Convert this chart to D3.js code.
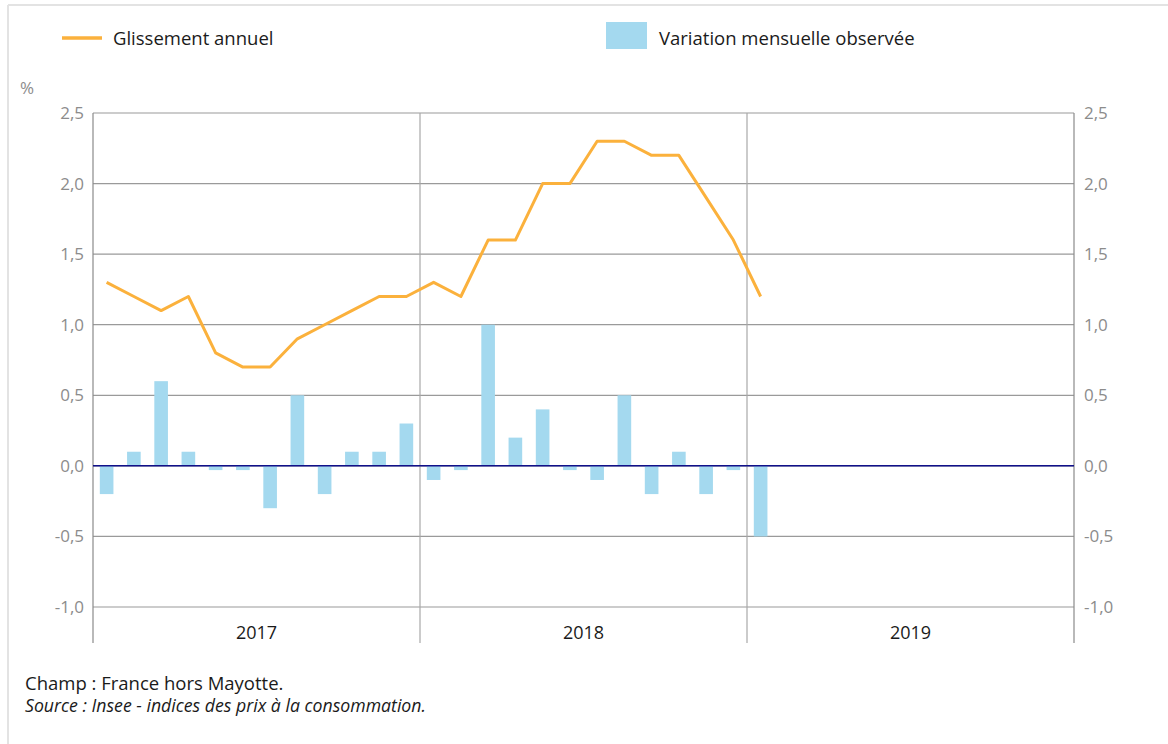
<!doctype html>
<html lang="fr">
<head>
  <meta charset="utf-8">
  <title>Glissement annuel et variation mensuelle</title>
  <style>
    body { margin: 0; background: #fff; }
    svg { font-family: "Open Sans", "Noto Sans", sans-serif; }
  </style>
</head>
<body>
<svg id="chart"></svg>
<script src="https://d3js.org/d3.v7.min.js"></script>
<script>
// months from Jan 2017 to Dec 2019
var years = ["2017", "2018", "2019"];
var months = [];
years.forEach(function(y) {
  for (var m = 1; m <= 12; m++) months.push(y + "-" + (m < 10 ? "0" + m : m));
});

// glissement annuel (%), Jan 2017 - Jan 2019
var yoy = [1.3, 1.2, 1.1, 1.2, 0.8, 0.7, 0.7, 0.9, 1.0, 1.1, 1.2, 1.2,
           1.3, 1.2, 1.6, 1.6, 2.0, 2.0, 2.3, 2.3, 2.2, 2.2, 1.9, 1.6,
           1.2];

// variation mensuelle observée (%), Jan 2017 - Jan 2019
var mom = [-0.2, 0.1, 0.6, 0.1, -0.03, -0.03, -0.3, 0.5, -0.2, 0.1, 0.1, 0.3,
           -0.1, -0.03, 1.0, 0.2, 0.4, -0.03, -0.1, 0.5, -0.2, 0.1, -0.2, -0.03,
           -0.5];

var yTicks = [-1.0, -0.5, 0.0, 0.5, 1.0, 1.5, 2.0, 2.5];

var width = 1168, height = 744;
var mLeft = 93, mRight = 1074, mTop = 113, mBottom = 607;

var svg = d3.select("#chart")
  .attr("width", width)
  .attr("height", height);

// french decimals, plain hyphen for negatives
var fr = d3.formatLocale({ decimal: ",", thousands: " ", grouping: [3], currency: ["", " €"], minus: "-" });
var fmt = fr.format(".1f");

var x = d3.scaleBand()
  .domain(months)
  .range([mLeft, mRight])
  .paddingInner(0.5)
  .paddingOuter(0.25);

var xYear = d3.scaleBand()
  .domain(years)
  .range([mLeft, mRight]);

var y = d3.scaleLinear()
  .domain([-1, 2.5])
  .range([mBottom, mTop]);

// outer frame (top and left edges)
svg.append("line")
  .attr("x1", 8).attr("x2", width).attr("y1", 5).attr("y2", 5)
  .style("stroke", "#e3e3e3").style("stroke-width", 2);
svg.append("line")
  .attr("x1", 8).attr("x2", 8).attr("y1", 5).attr("y2", height)
  .style("stroke", "#e3e3e3").style("stroke-width", 2);

// horizontal grid
svg.append("g").selectAll("line").data(yTicks)
  .enter().append("line")
  .attr("x1", mLeft).attr("x2", mRight)
  .attr("y1", function(d) { return y(d); })
  .attr("y2", function(d) { return y(d); })
  .style("stroke", "#9a9a9a")
  .style("stroke-width", 1.2);

// year separators
var bounds = years.map(function(d) { return xYear(d); }).concat([mRight]);
svg.append("g").selectAll("line").data(bounds)
  .enter().append("line")
  .attr("x1", function(d) { return d; })
  .attr("x2", function(d) { return d; })
  .attr("y1", mTop).attr("y2", 643)
  .style("stroke", function(d, i) { return (i == 0 || i == bounds.length - 1) ? "#8a8a8a" : "#a8a8a8"; })
  .style("stroke-width", 1.2);

// left / right tick labels
var yLeft = d3.axisLeft(y).tickValues(yTicks).tickFormat(fmt).tickSize(0).tickPadding(9);
var yRight = d3.axisRight(y).tickValues(yTicks).tickFormat(fmt).tickSize(0).tickPadding(10);
svg.append("g").attr("transform", "translate(" + mLeft + ",0)").call(yLeft)
  .call(function(g) { g.select(".domain").remove(); });
svg.append("g").attr("transform", "translate(" + mRight + ",0)").call(yRight)
  .call(function(g) { g.select(".domain").remove(); });
svg.selectAll(".tick text")
  .style("font-family", "'Open Sans', sans-serif")
  .style("font-size", "17px")
  .style("fill", "#8c8c8c");

svg.append("text")
  .attr("x", 20).attr("y", 94)
  .style("font-size", "17px").style("fill", "#8c8c8c")
  .text("%");

// year labels
svg.append("g").selectAll("text").data(years)
  .enter().append("text")
  .attr("x", function(d) { return xYear(d) + xYear.bandwidth() / 2; })
  .attr("y", 639)
  .attr("text-anchor", "middle")
  .style("font-size", "18px").style("fill", "#1a1a1a")
  .text(function(d) { return d; });

// bars
svg.append("g").selectAll("rect").data(mom)
  .enter().append("rect")
  .attr("x", function(d, i) { return x(months[i]); })
  .attr("width", x.bandwidth())
  .attr("y", function(d) { return y(Math.max(0, d)); })
  .attr("height", function(d) { return Math.abs(y(d) - y(0)); })
  .style("fill", "#a4d9ef");

// zero line
svg.append("line")
  .attr("x1", mLeft).attr("x2", mRight)
  .attr("y1", y(0)).attr("y2", y(0))
  .style("stroke", "#10108a")
  .style("stroke-width", 1.5);

// line
var line = d3.line()
  .x(function(d, i) { return x(months[i]) + x.bandwidth() / 2; })
  .y(function(d) { return y(d); });
svg.append("path").datum(yoy)
  .attr("d", line)
  .style("fill", "none")
  .style("stroke", "#fbb13c")
  .style("stroke-width", 3)
  .style("stroke-linejoin", "round");

// legend
svg.append("line")
  .attr("x1", 62).attr("x2", 102).attr("y1", 38).attr("y2", 38)
  .style("stroke", "#fbb13c").style("stroke-width", 3.5);
svg.append("text")
  .attr("x", 113).attr("y", 45)
  .style("font-size", "18.5px").style("fill", "#1a1a1a")
  .text("Glissement annuel");
svg.append("rect")
  .attr("x", 606).attr("y", 22).attr("width", 41).attr("height", 27)
  .style("fill", "#a4d9ef");
svg.append("text")
  .attr("x", 659).attr("y", 45)
  .style("font-size", "18.5px").style("fill", "#1a1a1a")
  .text("Variation mensuelle observée");

// notes
svg.append("text")
  .attr("x", 25).attr("y", 690)
  .style("font-size", "18.5px").style("fill", "#1a1a1a")
  .text("Champ : France hors Mayotte.");
svg.append("text")
  .attr("x", 25).attr("y", 712)
  .style("font-size", "17.7px").style("font-style", "italic").style("fill", "#1a1a1a")
  .text("Source : Insee - indices des prix à la consommation.");
</script>
</body>
</html>
